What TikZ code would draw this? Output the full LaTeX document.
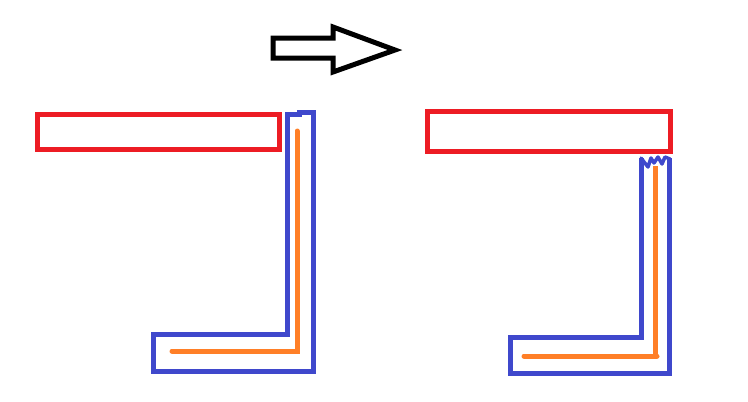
\documentclass[tikz,border=0pt]{standalone}
\usepackage{tikz}
\usetikzlibrary{calc}

\definecolor{paintred}{RGB}{237,28,36}
\definecolor{paintblue}{RGB}{63,72,204}
\definecolor{paintorange}{RGB}{255,127,39}

\begin{document}
\begin{tikzpicture}[x=1pt, y=-1pt]
\useasboundingbox (0,0) rectangle (748,402);

% arrow
\draw[black, line width=5pt, line join=miter] (273,38) -- (333,38) -- (333,27) -- (395,50) -- (333,72) -- (333,58) -- (273,58) -- cycle;

% before
\draw[paintred, line width=5pt] (37,114) rectangle (279,149);
\draw[paintblue, line width=5pt] (287,114) -- (299,114) -- (299,112) -- (313,112) -- (313,371) -- (153,371) -- (153,334) -- (287,334) -- cycle;
\draw[paintorange, line width=5pt, line cap=round] (297,131) -- (297,351) -- (172,351);

% after
\draw[paintred, line width=5pt] (427,111) rectangle (670,151);
\draw[paintblue, line width=5pt] (641,158) -- (641,337) -- (510,337) -- (510,373) -- (669,373) -- (669,158);
\draw[paintblue, line width=3.5pt, line join=round, line cap=round] (641,158) -- (648,167) -- (651,158) -- (654,163) -- (658,157) -- (662,164) -- (665,157) -- (670,159);
\draw[paintorange, line width=5pt] (655,166) -- (655,356);
\draw[paintorange, line width=5pt, line cap=round] (524,356) -- (657,356);

\end{tikzpicture}
\end{document}
